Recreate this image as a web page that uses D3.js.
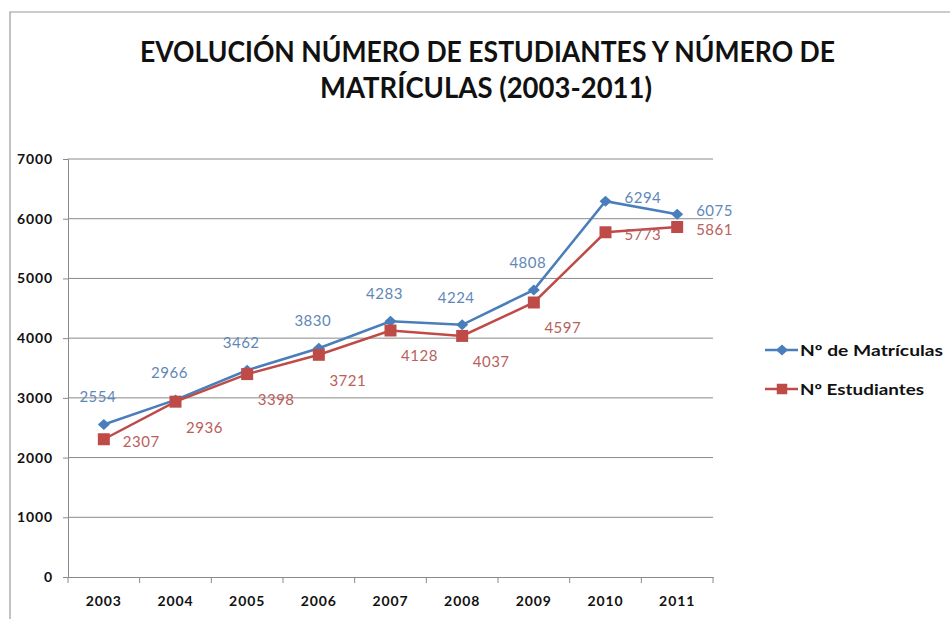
<!DOCTYPE html>
<html><head><meta charset="utf-8">
<script src="https://cdn.jsdelivr.net/npm/d3@7"></script>
<style>body{margin:0;background:#fff}svg{display:block}</style>
</head><body><svg id="c" width="950" height="619"></svg>
<script>
const years = ["2003","2004","2005","2006","2007","2008","2009","2010","2011"];
const matriculas = [2554,2966,3462,3830,4283,4224,4808,6294,6075];
const estudiantes = [2307,2936,3398,3721,4128,4037,4597,5773,5861];
const yTicks = [0,1000,2000,3000,4000,5000,6000,7000];
const seriesNames = ["Nº de Matrículas","Nº Estudiantes"];
const titleLines = ["EVOLUCIÓN NÚMERO DE ESTUDIANTES Y NÚMERO DE","MATRÍCULAS (2003-2011)"];
const matLabelPlace = ["above","above","above","above","above","above","above","right","right"];
const estLabelPlace = ["right","below","below","below","below","below","below","right","right"];

const svg = d3.select("#c");
const blue = "#4A7EBB", red = "#BE4B48";
const blueTxt = "#5F88B8", redTxt = "#B9605C";

// frame
svg.append("path").attr("d","M10,619 V12 H950").attr("fill","none").attr("stroke","#9a9a9a").attr("stroke-width",1.2);

// title
const tt = svg.append("g").attr("font-family","Lato, 'Liberation Sans', sans-serif").attr("font-weight","bold").attr("fill","#111").attr("font-size",28);
tt.append("text").attr("x",140).attr("y",62).attr("textLength",695).attr("lengthAdjust","spacingAndGlyphs").text(titleLines[0]);
tt.append("text").attr("x",320).attr("y",98).attr("textLength",332).attr("lengthAdjust","spacingAndGlyphs").text(titleLines[1]);

const x = d3.scaleBand().domain(years).range([68,713]);
const y = d3.scaleLinear().domain([0,7000]).range([577,159]);
const cx = d => x(d) + x.bandwidth()/2;

// gridlines
svg.append("g").selectAll("line").data(yTicks.filter(t=>t>0)).join("line")
  .attr("x1",68).attr("x2",713).attr("y1",d=>y(d)).attr("y2",d=>y(d))
  .attr("stroke","#8a8a8a").attr("stroke-width",1);

// y axis
const ya = svg.append("g").attr("transform","translate(68,0)")
  .call(d3.axisLeft(y).tickValues(yTicks).tickSize(5).tickFormat(d3.format("d")));
ya.select(".domain").attr("stroke","#8a8a8a");
ya.selectAll(".tick line").attr("stroke","#8a8a8a");
ya.selectAll("text").attr("font-family","Lato, sans-serif").attr("font-weight","bold").attr("font-size",14)
  .attr("letter-spacing","0.9px").attr("fill","#111").attr("x",-15);

// x axis
const xa = svg.append("g").attr("transform","translate(0,577)")
  .call(d3.axisBottom(x).tickSize(0));
xa.select(".domain").attr("stroke","#8a8a8a");
xa.selectAll("text").attr("font-family","Lato, sans-serif").attr("font-weight","bold").attr("font-size",14)
  .attr("letter-spacing","0.9px").attr("fill","#111").attr("dy",0).attr("y",29);
svg.append("g").selectAll("line").data(d3.range(years.length+1)).join("line")
  .attr("x1",i=>68+i*x.bandwidth()).attr("x2",i=>68+i*x.bandwidth())
  .attr("y1",577).attr("y2",583).attr("stroke","#8a8a8a");

const line = d3.line().x((d,i)=>cx(years[i])).y(d=>y(d));
const diamondPath = "M0,-5.5L6,0L0,5.5L-6,0Z";
const squarePath = d3.symbol().type(d3.symbolSquare).size(144)();

// blue series first, red on top
svg.append("path").datum(matriculas).attr("d",line).attr("fill","none").attr("stroke",blue).attr("stroke-width",2.5);
svg.append("g").selectAll("path").data(matriculas).join("path")
  .attr("d",diamondPath)
  .attr("transform",(d,i)=>`translate(${cx(years[i])},${y(d)})`).attr("fill",blue);
svg.append("path").datum(estudiantes).attr("d",line).attr("fill","none").attr("stroke",red).attr("stroke-width",2.5);
svg.append("g").selectAll("path").data(estudiantes).join("path")
  .attr("d",squarePath)
  .attr("transform",(d,i)=>`translate(${cx(years[i])},${y(d)})`).attr("fill",red);

// data labels
function place(p, px, py, series){
  if(p==="above") return {x:px-6, y:py-22, a:"middle"};
  if(p==="below") return {x:px+29, y:py+31, a:"middle"};
  return {x:px+19, y:py+(series===0?2:8), a:"start"};
}
const lblG = svg.append("g").attr("font-family","Lato, sans-serif").attr("font-size",15).attr("letter-spacing","0.5px");
lblG.selectAll("text.m").data(matriculas).join("text").attr("class","m")
  .each(function(d,i){const p=place(matLabelPlace[i],cx(years[i]),y(d),0);
    d3.select(this).attr("x",p.x).attr("y",p.y).attr("text-anchor",p.a);})
  .attr("fill",blueTxt).text(d=>d);
lblG.selectAll("text.e").data(estudiantes).join("text").attr("class","e")
  .each(function(d,i){const p=place(estLabelPlace[i],cx(years[i]),y(d),1);
    d3.select(this).attr("x",p.x).attr("y",p.y).attr("text-anchor",p.a);})
  .attr("fill",redTxt).text(d=>d);

// legend
const lg = svg.append("g").attr("font-family","Lato, sans-serif").attr("font-weight","bold").attr("font-size",15).attr("fill","#111");
const legY = [350,389];
const legW = [143,124];
const cols = [blue, red];
legY.forEach((ly,i)=>{
  lg.append("line").attr("x1",765).attr("x2",798).attr("y1",ly).attr("y2",ly).attr("stroke",cols[i]).attr("stroke-width",2.5);
  lg.append("path").attr("d", i===0 ? diamondPath : d3.symbol().type(d3.symbolSquare).size(110)())
    .attr("transform",`translate(782,${ly})`).attr("fill",cols[i]);
  lg.append("text").attr("x",800).attr("y",ly+5.5).attr("textLength",legW[i]).attr("lengthAdjust","spacingAndGlyphs").text(seriesNames[i]);
});
</script></body></html>
